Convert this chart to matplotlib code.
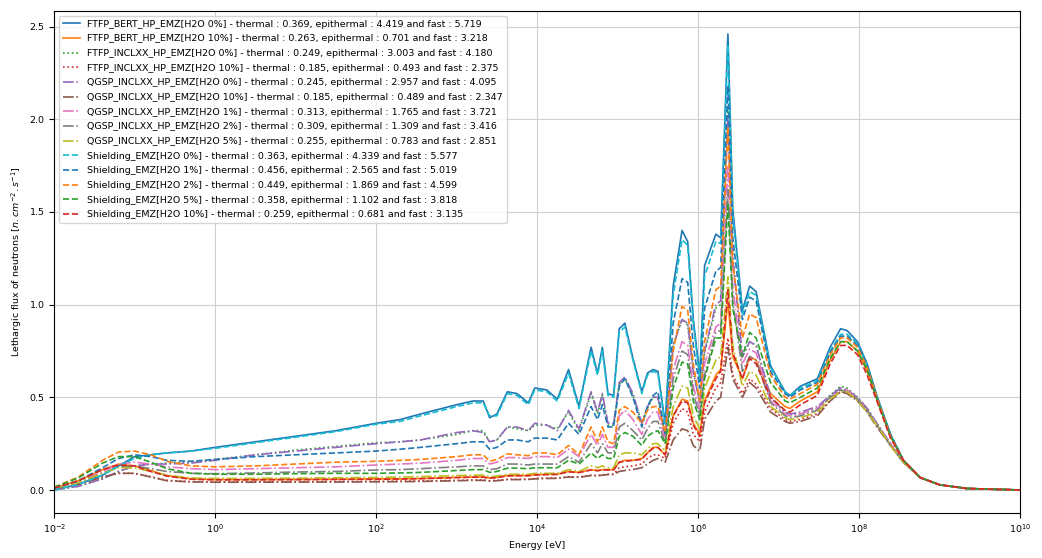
import numpy as np
import matplotlib
matplotlib.use("Agg")
import matplotlib.pyplot as plt
from matplotlib.ticker import NullLocator

# energy grid, given as log10(E / eV)
energy_exp = [-2.0, -1.7, -1.4, -1.2, -1.0, -0.8, -0.6, -0.3, 0.0, 0.5, 1.0, 1.5, 2.0,
              2.3, 2.55, 3.0, 3.2, 3.33, 3.41, 3.5, 3.63, 3.75, 3.89, 3.97, 4.12, 4.25,
              4.39, 4.52, 4.67, 4.75, 4.81, 4.88, 4.95,
              5.02, 5.09, 5.19, 5.30, 5.37, 5.44, 5.50, 5.59, 5.69, 5.80, 5.87, 5.94,
              6.02, 6.08, 6.22, 6.28, 6.37, 6.43, 6.55, 6.64, 6.72,
              6.90, 7.08, 7.14, 7.27, 7.48, 7.64, 7.77, 7.85, 7.98, 8.10, 8.22, 8.39,
              8.55, 8.76, 9.00, 9.34, 10.0]

ftfp_bert_0 = [0.0, 0.03, 0.08, 0.13, 0.18, 0.19, 0.20, 0.21, 0.23, 0.26, 0.29, 0.32, 0.36,
               0.38, 0.41, 0.46, 0.48, 0.48, 0.39, 0.41, 0.53, 0.52, 0.47, 0.55, 0.54, 0.49, 0.65, 0.45, 0.77, 0.63, 0.77, 0.52, 0.51,
               0.87, 0.90, 0.71, 0.53, 0.63, 0.65, 0.64, 0.36, 1.10, 1.40, 1.34, 0.92, 0.62, 1.21, 1.38, 1.36, 2.46, 1.52, 0.97, 1.10, 1.07,
               0.67, 0.53, 0.51, 0.56, 0.60, 0.77, 0.87, 0.86, 0.80, 0.68, 0.51, 0.30, 0.16, 0.067, 0.028, 0.008, 0.0]
ftfp_bert_10 = [0.01, 0.05, 0.11, 0.14, 0.13, 0.105, 0.078, 0.06, 0.056, 0.056, 0.057, 0.058, 0.06,
                0.06, 0.062, 0.068, 0.07, 0.07, 0.065, 0.068, 0.078, 0.078, 0.078, 0.082, 0.085, 0.085, 0.10, 0.095, 0.11, 0.105, 0.11, 0.11, 0.11,
                0.15, 0.16, 0.16, 0.17, 0.20, 0.23, 0.23, 0.19, 0.40, 0.49, 0.48, 0.36, 0.30, 0.48, 0.62, 0.65, 1.02, 0.72, 0.60, 0.72, 0.70,
                0.52, 0.45, 0.44, 0.48, 0.53, 0.70, 0.80, 0.80, 0.75, 0.64, 0.49, 0.29, 0.16, 0.067, 0.028, 0.008, 0.0]
ftfp_inclxx_0 = [0.0, 0.02, 0.06, 0.10, 0.13, 0.14, 0.145, 0.15, 0.165, 0.19, 0.215, 0.235, 0.255,
                 0.26, 0.27, 0.30, 0.32, 0.32, 0.26, 0.27, 0.34, 0.33, 0.32, 0.35, 0.35, 0.33, 0.42, 0.32, 0.52, 0.41, 0.51, 0.35, 0.35,
                 0.57, 0.60, 0.51, 0.36, 0.44, 0.50, 0.50, 0.29, 0.78, 0.92, 0.89, 0.64, 0.47, 0.74, 0.98, 1.00, 2.05, 1.26, 0.72, 0.80, 0.78,
                 0.50, 0.42, 0.41, 0.41, 0.44, 0.51, 0.56, 0.55, 0.50, 0.44, 0.36, 0.25, 0.15, 0.066, 0.028, 0.008, 0.0]
ftfp_inclxx_10 = [0.005, 0.03, 0.07, 0.09, 0.09, 0.072, 0.052, 0.045, 0.043, 0.044, 0.045, 0.046, 0.047,
                  0.048, 0.049, 0.052, 0.054, 0.054, 0.05, 0.052, 0.058, 0.058, 0.058, 0.062, 0.064, 0.064, 0.072, 0.07, 0.08, 0.078, 0.082, 0.085, 0.085,
                  0.12, 0.125, 0.13, 0.14, 0.17, 0.19, 0.19, 0.17, 0.36, 0.44, 0.42, 0.30, 0.26, 0.42, 0.55, 0.58, 0.82, 0.62, 0.52, 0.60, 0.57,
                  0.44, 0.38, 0.37, 0.38, 0.41, 0.48, 0.53, 0.53, 0.49, 0.43, 0.35, 0.24, 0.15, 0.066, 0.028, 0.008, 0.0]
qgsp_inclxx_0 = [0.0, 0.02, 0.06, 0.10, 0.13, 0.14, 0.14, 0.145, 0.16, 0.19, 0.21, 0.23, 0.25,
                 0.26, 0.27, 0.31, 0.32, 0.31, 0.26, 0.27, 0.34, 0.34, 0.32, 0.36, 0.35, 0.32, 0.43, 0.33, 0.53, 0.42, 0.52, 0.36, 0.36,
                 0.58, 0.61, 0.52, 0.36, 0.45, 0.50, 0.50, 0.29, 0.78, 0.92, 0.90, 0.64, 0.47, 0.75, 1.00, 1.02, 2.02, 1.25, 0.72, 0.80, 0.78,
                 0.50, 0.42, 0.41, 0.42, 0.45, 0.51, 0.55, 0.54, 0.50, 0.44, 0.36, 0.25, 0.15, 0.066, 0.028, 0.008, 0.0]
qgsp_inclxx_10 = [0.005, 0.03, 0.07, 0.09, 0.09, 0.07, 0.05, 0.044, 0.042, 0.042, 0.043, 0.043, 0.044,
                  0.045, 0.046, 0.05, 0.052, 0.052, 0.048, 0.05, 0.056, 0.056, 0.057, 0.06, 0.062, 0.063, 0.07, 0.068, 0.078, 0.076, 0.08, 0.083, 0.084,
                  0.10, 0.105, 0.11, 0.12, 0.14, 0.16, 0.17, 0.15, 0.27, 0.33, 0.32, 0.24, 0.21, 0.38, 0.48, 0.50, 0.77, 0.60, 0.50, 0.58, 0.55,
                  0.42, 0.37, 0.36, 0.37, 0.40, 0.48, 0.53, 0.52, 0.48, 0.42, 0.34, 0.24, 0.15, 0.066, 0.028, 0.008, 0.0]
qgsp_inclxx_1 = [0.01, 0.04, 0.10, 0.14, 0.15, 0.14, 0.125, 0.115, 0.11, 0.115, 0.12, 0.125, 0.135,
                 0.14, 0.145, 0.16, 0.17, 0.17, 0.14, 0.15, 0.175, 0.175, 0.17, 0.18, 0.18, 0.175, 0.22, 0.18, 0.30, 0.24, 0.30, 0.23, 0.23,
                 0.40, 0.43, 0.38, 0.30, 0.38, 0.42, 0.42, 0.27, 0.65, 0.80, 0.78, 0.56, 0.43, 0.68, 0.88, 0.90, 1.75, 1.10, 0.68, 0.76, 0.74,
                 0.48, 0.41, 0.40, 0.41, 0.44, 0.50, 0.54, 0.54, 0.49, 0.43, 0.35, 0.25, 0.15, 0.066, 0.028, 0.008, 0.0]
qgsp_inclxx_2 = [0.01, 0.04, 0.09, 0.125, 0.13, 0.115, 0.10, 0.09, 0.088, 0.092, 0.097, 0.10, 0.108,
                 0.11, 0.115, 0.125, 0.13, 0.13, 0.11, 0.115, 0.14, 0.14, 0.135, 0.14, 0.14, 0.14, 0.18, 0.15, 0.25, 0.20, 0.25, 0.20, 0.20,
                 0.34, 0.36, 0.32, 0.27, 0.33, 0.37, 0.37, 0.25, 0.60, 0.75, 0.73, 0.52, 0.40, 0.62, 0.85, 0.86, 1.62, 1.02, 0.64, 0.72, 0.70,
                 0.47, 0.40, 0.39, 0.40, 0.43, 0.50, 0.54, 0.53, 0.49, 0.43, 0.35, 0.24, 0.15, 0.066, 0.028, 0.008, 0.0]
qgsp_inclxx_5 = [0.01, 0.04, 0.09, 0.12, 0.12, 0.10, 0.08, 0.065, 0.062, 0.063, 0.064, 0.066, 0.068,
                 0.07, 0.072, 0.078, 0.08, 0.08, 0.072, 0.075, 0.085, 0.085, 0.085, 0.09, 0.09, 0.09, 0.11, 0.10, 0.13, 0.12, 0.13, 0.12, 0.12,
                 0.19, 0.20, 0.20, 0.19, 0.22, 0.25, 0.25, 0.21, 0.45, 0.56, 0.55, 0.40, 0.33, 0.55, 0.70, 0.72, 1.15, 0.78, 0.56, 0.64, 0.62,
                 0.45, 0.39, 0.38, 0.39, 0.42, 0.49, 0.53, 0.53, 0.48, 0.42, 0.35, 0.24, 0.15, 0.066, 0.028, 0.008, 0.0]
shielding_0 = [0.0, 0.03, 0.08, 0.13, 0.17, 0.19, 0.20, 0.21, 0.225, 0.255, 0.285, 0.315, 0.355,
               0.37, 0.40, 0.45, 0.47, 0.47, 0.40, 0.40, 0.52, 0.51, 0.46, 0.54, 0.53, 0.48, 0.63, 0.44, 0.75, 0.62, 0.75, 0.51, 0.50,
               0.85, 0.88, 0.70, 0.52, 0.62, 0.64, 0.63, 0.35, 1.05, 1.35, 1.32, 0.90, 0.60, 1.15, 1.34, 1.33, 2.40, 1.48, 0.95, 1.07, 1.05,
               0.66, 0.53, 0.51, 0.55, 0.59, 0.75, 0.84, 0.84, 0.79, 0.67, 0.50, 0.30, 0.16, 0.067, 0.028, 0.008, 0.0]
shielding_1 = [0.01, 0.05, 0.12, 0.17, 0.19, 0.18, 0.16, 0.155, 0.165, 0.18, 0.19, 0.20, 0.21,
               0.22, 0.23, 0.25, 0.26, 0.26, 0.22, 0.23, 0.27, 0.27, 0.26, 0.28, 0.28, 0.27, 0.36, 0.30, 0.45, 0.38, 0.46, 0.34, 0.34,
               0.56, 0.60, 0.50, 0.34, 0.45, 0.51, 0.53, 0.30, 0.90, 1.14, 1.12, 0.78, 0.55, 0.98, 1.18, 1.20, 2.18, 1.36, 0.92, 1.04, 1.02,
               0.64, 0.52, 0.50, 0.54, 0.58, 0.74, 0.83, 0.83, 0.78, 0.67, 0.50, 0.30, 0.16, 0.067, 0.028, 0.008, 0.0]
shielding_2 = [0.015, 0.07, 0.16, 0.205, 0.21, 0.19, 0.155, 0.13, 0.125, 0.13, 0.14, 0.15, 0.155,
               0.16, 0.165, 0.18, 0.19, 0.19, 0.155, 0.165, 0.195, 0.19, 0.185, 0.20, 0.20, 0.19, 0.24, 0.19, 0.34, 0.26, 0.34, 0.26, 0.25,
               0.43, 0.45, 0.42, 0.36, 0.43, 0.45, 0.45, 0.31, 0.75, 0.99, 0.97, 0.68, 0.48, 0.80, 1.08, 1.10, 1.96, 1.22, 0.82, 0.95, 0.93,
               0.62, 0.50, 0.49, 0.52, 0.57, 0.73, 0.82, 0.82, 0.77, 0.66, 0.50, 0.29, 0.16, 0.067, 0.028, 0.008, 0.0]
shielding_5 = [0.015, 0.065, 0.145, 0.18, 0.18, 0.15, 0.115, 0.09, 0.085, 0.085, 0.088, 0.09, 0.09,
               0.092, 0.095, 0.105, 0.11, 0.11, 0.095, 0.10, 0.118, 0.118, 0.115, 0.12, 0.12, 0.12, 0.16, 0.14, 0.20, 0.17, 0.19, 0.17, 0.17,
               0.29, 0.31, 0.29, 0.24, 0.29, 0.31, 0.32, 0.25, 0.55, 0.69, 0.68, 0.48, 0.38, 0.60, 0.82, 0.82, 1.55, 0.98, 0.72, 0.85, 0.82,
               0.58, 0.48, 0.47, 0.50, 0.55, 0.71, 0.80, 0.80, 0.75, 0.65, 0.49, 0.29, 0.16, 0.067, 0.028, 0.008, 0.0]
shielding_10 = [0.01, 0.05, 0.11, 0.135, 0.13, 0.10, 0.075, 0.058, 0.055, 0.055, 0.056, 0.057, 0.058,
                0.059, 0.061, 0.067, 0.069, 0.069, 0.064, 0.067, 0.076, 0.077, 0.077, 0.081, 0.083, 0.084, 0.098, 0.094, 0.108, 0.104, 0.108, 0.108, 0.108,
                0.15, 0.155, 0.16, 0.165, 0.20, 0.225, 0.23, 0.19, 0.40, 0.48, 0.47, 0.35, 0.29, 0.47, 0.60, 0.64, 1.08, 0.74, 0.60, 0.71, 0.68,
                0.50, 0.43, 0.42, 0.46, 0.51, 0.68, 0.78, 0.78, 0.73, 0.62, 0.48, 0.28, 0.16, 0.067, 0.028, 0.008, 0.0]

labels = [
    "FTFP_BERT_HP_EMZ[H2O 0%] - thermal : 0.369, epithermal : 4.419 and fast : 5.719",
    "FTFP_BERT_HP_EMZ[H2O 10%] - thermal : 0.263, epithermal : 0.701 and fast : 3.218",
    "FTFP_INCLXX_HP_EMZ[H2O 0%] - thermal : 0.249, epithermal : 3.003 and fast : 4.180",
    "FTFP_INCLXX_HP_EMZ[H2O 10%] - thermal : 0.185, epithermal : 0.493 and fast : 2.375",
    "QGSP_INCLXX_HP_EMZ[H2O 0%] - thermal : 0.245, epithermal : 2.957 and fast : 4.095",
    "QGSP_INCLXX_HP_EMZ[H2O 10%] - thermal : 0.185, epithermal : 0.489 and fast : 2.347",
    "QGSP_INCLXX_HP_EMZ[H2O 1%] - thermal : 0.313, epithermal : 1.765 and fast : 3.721",
    "QGSP_INCLXX_HP_EMZ[H2O 2%] - thermal : 0.309, epithermal : 1.309 and fast : 3.416",
    "QGSP_INCLXX_HP_EMZ[H2O 5%] - thermal : 0.255, epithermal : 0.783 and fast : 2.851",
    "Shielding_EMZ[H2O 0%] - thermal : 0.363, epithermal : 4.339 and fast : 5.577",
    "Shielding_EMZ[H2O 1%] - thermal : 0.456, epithermal : 2.565 and fast : 5.019",
    "Shielding_EMZ[H2O 2%] - thermal : 0.449, epithermal : 1.869 and fast : 4.599",
    "Shielding_EMZ[H2O 5%] - thermal : 0.358, epithermal : 1.102 and fast : 3.818",
    "Shielding_EMZ[H2O 10%] - thermal : 0.259, epithermal : 0.681 and fast : 3.135",
]
series = [ftfp_bert_0, ftfp_bert_10, ftfp_inclxx_0, ftfp_inclxx_10,
          qgsp_inclxx_0, qgsp_inclxx_10, qgsp_inclxx_1, qgsp_inclxx_2, qgsp_inclxx_5,
          shielding_0, shielding_1, shielding_2, shielding_5, shielding_10]
styles = ["-", "-", ":", ":", "-.", "-.", "-.", "-.", "-.", "--", "--", "--", "--", "--"]

plt.rcParams["font.size"] = 6.8
energy = np.power(10.0, energy_exp)

fig = plt.figure(figsize=(10.42, 5.58), dpi=100)
ax = fig.add_subplot(111)
fig.subplots_adjust(left=0.052, right=0.979, top=0.980, bottom=0.081)

for i in range(len(series)):
    ax.plot(energy, series[i], linestyle=styles[i], linewidth=1.2, label=labels[i])

ax.set_xscale("log")
ax.set_xlim(1e-2, 1e10)
ax.set_xticks([1e-2, 1e0, 1e2, 1e4, 1e6, 1e8, 1e10])
ax.xaxis.set_minor_locator(NullLocator())
ax.grid(True, color="#d0d0d0", linewidth=0.8)
ax.set_xlabel("Energy [eV]")
ax.set_ylabel(r"Lethargic flux of neutrons [$n.cm^{-2}.s^{-1}$]")
ax.legend(loc="upper left", fontsize=6.8, labelspacing=0.6, handlelength=1.8)

fig.savefig("out.png", dpi=100)
